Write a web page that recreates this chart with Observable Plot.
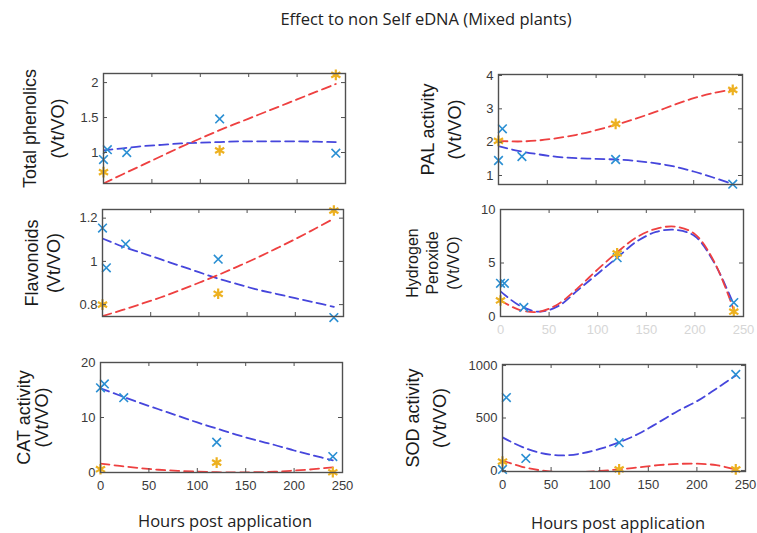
<!DOCTYPE html>
<html>
<head>
<meta charset="utf-8">
<script src="https://cdn.jsdelivr.net/npm/d3@7"></script>
<script src="https://cdn.jsdelivr.net/npm/@observablehq/plot@0.6"></script>
<style>
  body { margin: 0; background: #fff; }
  #root { position: relative; width: 757px; height: 533px; overflow: hidden; background: #fff; }
  .panel { position: absolute; }
  .txt { position: absolute; white-space: nowrap; font-family: "Open Sans", sans-serif; color: #222; transform: translateX(-50%); }
</style>
</head>
<body>
<div id="root"></div>
<script>
// ---------- data ----------
const titleText = "Effect to non Self eDNA (Mixed plants)";
const xLabelText = "Hours post application";
const xTicks = [0, 50, 100, 150, 200, 250];

const hoursCross = [0, 4, 24, 120, 240];   // blue "x" markers
const hoursStar = [0, 120, 240];           // orange "*" markers
const hoursFit = [0, 20, 40, 60, 80, 100, 120, 140, 160, 180, 200, 220, 240]; // dashed fit curves

// Total phenolics
const phenolicsCross = [0.90, 1.04, 1.00, 1.48, 0.99];
const phenolicsStar = [0.72, 1.03, 2.11];
const phenolicsFitBlue = [1.03, 1.06, 1.09, 1.11, 1.13, 1.14, 1.15, 1.16, 1.16, 1.16, 1.16, 1.155, 1.15];
const phenolicsFitRed = [0.557, 0.69, 0.82, 0.95, 1.08, 1.20, 1.32, 1.43, 1.54, 1.65, 1.76, 1.87, 1.98];

// PAL activity
const palCross = [1.45, 2.40, 1.57, 1.48, 0.74];
const palStar = [2.04, 2.55, 3.57];
const palFitBlue = [1.88, 1.74, 1.64, 1.56, 1.52, 1.50, 1.48, 1.44, 1.37, 1.27, 1.12, 0.94, 0.74];
const palFitRed = [2.04, 2.02, 2.05, 2.12, 2.22, 2.36, 2.52, 2.70, 2.90, 3.12, 3.32, 3.47, 3.58];

// Flavonoids
const flavCross = [1.154, 0.97, 1.08, 1.01, 0.74];
const flavStar = [0.80, 0.85, 1.235];
const flavFitBlue = [1.106, 1.07, 1.04, 1.01, 0.98, 0.95, 0.92, 0.895, 0.87, 0.85, 0.83, 0.81, 0.79];
const flavFitRed = [0.747, 0.774, 0.803, 0.833, 0.866, 0.901, 0.937, 0.976, 1.016, 1.059, 1.103, 1.15, 1.198];

// Hydrogen peroxide
const h2o2Cross = [3.1, 3.1, 0.85, 5.5, 1.3];
const h2o2Star = [1.5, 5.9, 0.45];
const h2o2FitBlue = [2.35, 1.0, 0.45, 1.0, 2.5, 4.0, 5.5, 7.0, 7.9, 8.1, 7.5, 5.0, 1.1];
const h2o2FitRed = [1.5, 0.6, 0.45, 1.2, 2.7, 4.4, 6.0, 7.4, 8.2, 8.4, 7.7, 5.1, 0.6];

// CAT activity
const catCross = [15.4, 16.1, 13.6, 5.5, 2.9];
const catStar = [0.6, 1.8, 0.05];
const catFitBlue = [15.3, 14.0, 12.7, 11.5, 10.3, 9.1, 8.0, 6.9, 5.9, 5.0, 4.0, 3.1, 2.2];
const catFitRed = [1.6, 1.2, 0.8, 0.5, 0.3, 0.15, 0.05, 0.0, 0.05, 0.15, 0.35, 0.6, 0.95];

// SOD activity
const sodCross = [10, 695, 115, 265, 915];
const sodStar = [85, 10, 10];
const sodFitBlue = [315, 225, 165, 143, 160, 205, 268, 350, 455, 565, 660, 780, 905];
const sodFitRed = [95, 35, 0, -15, -15, -5, 10, 30, 50, 62, 65, 50, 10];

// ---------- styling ----------
const crossColor = "#2a8fd3";
const starColor = "#EDB120";
const blueFitColor = "#4646dc";
const redFitColor = "#ee4040";

const panels = [
  {label: ["Total phenolics", "(Vt/VO)"], offsets: [-73, -45], fs: 18, col: 0, box: [103, 73, 345, 183],
   domain: [0.557, 2.13], yTicks: [1, 1.5, 2], cross: phenolicsCross, star: phenolicsStar, blue: phenolicsFitBlue, red: phenolicsFitRed, xLab: "none"},
  {label: ["PAL activity", "(Vt/VO)"], offsets: [-70, -43], fs: 18, col: 1, box: [498, 74, 742, 184],
   domain: [0.73, 4.03], yTicks: [1, 2, 3, 4], cross: palCross, star: palStar, blue: palFitBlue, red: palFitRed, xLab: "none"},
  {label: ["Flavonoids", "(Vt/VO)"], offsets: [-70, -48], fs: 18, col: 0, box: [102, 209, 343, 316],
   domain: [0.745, 1.24], yTicks: [0.8, 1, 1.2], cross: flavCross, star: flavStar, blue: flavFitBlue, red: flavFitRed, xLab: "none"},
  {label: ["Hydrogen", "Peroxide", "(Vt/VO)"], offsets: [-88, -68, -47], fs: 16, col: 1, box: [500, 209, 743, 316],
   domain: [0, 10], yTicks: [0, 5, 10], cross: h2o2Cross, star: h2o2Star, blue: h2o2FitBlue, red: h2o2FitRed, xLab: "faint"},
  {label: ["CAT activity", "(Vt/VO)"], offsets: [-76, -58], fs: 18, col: 0, box: [100, 362, 342, 472],
   domain: [0, 20], yTicks: [0, 10, 20], cross: catCross, star: catStar, blue: catFitBlue, red: catFitRed, xLab: "full"},
  {label: ["SOD activity", "(Vt/VO)"], offsets: [-89, -62], fs: 18, col: 1, box: [502, 364, 745, 471],
   domain: [-10, 1010], yTicks: [0, 500, 1000], cross: sodCross, star: sodStar, blue: sodFitBlue, red: sodFitRed, xLab: "full"}
];

const root = document.getElementById("root");

function addText(text, x, y, size) {
  const d = document.createElement("div");
  d.className = "txt";
  d.textContent = text;
  d.style.left = x + "px";
  d.style.top = y + "px";
  d.style.fontSize = size + "px";
  root.appendChild(d);
}

addText(titleText, 426, 7, 16.5);

for (const p of panels) {
  const svgLeft = p.col === 0 ? 0 : 380;
  const svgW = p.col === 0 ? 375 : 377;
  const mt = 12, mb = p.xLab === "none" ? 14 : 30;
  const [bl, bt, br, bb] = p.box;
  const bh = bb - bt, bw = br - bl;
  const ml = bl - svgLeft, mr = svgLeft + svgW - br;
  const h = bh + mt + mb;

  const crossRows = hoursCross.map((t, i) => ({t, v: p.cross[i]}));
  const starRows = hoursStar.map((t, i) => ({t, v: p.star[i]}));
  const blueRows = hoursFit.map((t, i) => ({t, v: p.blue[i]}));
  const redRows = hoursFit.map((t, i) => ({t, v: p.red[i]}));

  const marks = [
    Plot.line(blueRows, {x: "t", y: "v", stroke: blueFitColor, strokeWidth: 1.8, strokeDasharray: "9,5", curve: "catmull-rom", clip: true}),
    Plot.line(redRows, {x: "t", y: "v", stroke: redFitColor, strokeWidth: 1.8, strokeDasharray: "9,5", curve: "catmull-rom", clip: true}),
    Plot.dot(crossRows, {x: "t", y: "v", symbol: "times", stroke: crossColor, strokeWidth: 1.6, r: 4}),
    Plot.dot(starRows, {x: "t", y: "v", symbol: "asterisk", stroke: starColor, strokeWidth: 2.2, r: 5}),
    Plot.frame({stroke: "#505050", strokeWidth: 1.4}),
    // inward ticks (box on)
    Plot.tickX(xTicks.slice(1, -1), {x: d => d, insetTop: bh - 4, stroke: "#505050", strokeWidth: 1}),
    Plot.tickX(xTicks.slice(1, -1), {x: d => d, insetBottom: bh - 4, stroke: "#505050", strokeWidth: 1}),
    Plot.tickY(p.yTicks, {y: d => d, insetRight: bw - 4, stroke: "#505050", strokeWidth: 1}),
    Plot.tickY(p.yTicks, {y: d => d, insetLeft: bw - 4, stroke: "#505050", strokeWidth: 1}),
    Plot.axisY(p.yTicks, {anchor: "left", tickSize: 0, tickPadding: 5, label: null, fill: "#3a3a3a", fontSize: 13, tickFormat: d => String(d)}),
  ];
  if (p.xLab !== "none") {
    marks.push(Plot.axisX(xTicks, {anchor: "bottom", tickSize: 0, tickPadding: 8, label: null,
      fill: p.xLab === "faint" ? "#d6d6d6" : "#3a3a3a", fontSize: 13, tickFormat: d => String(d)}));
  }
  p.label.forEach((line, i) => {
    marks.push(Plot.text([line], {text: d => d, frameAnchor: "left", textAnchor: "middle", dx: p.offsets[i], rotate: -90,
      fontSize: p.fs, fill: "#1a1a1a", fontFamily: "Liberation Sans, Arial, sans-serif"}));
  });

  const chart = Plot.plot({
    width: svgW, height: h,
    marginLeft: ml, marginRight: mr, marginTop: mt, marginBottom: mb,
    x: {domain: [0, 250], axis: null},
    y: {domain: p.domain, axis: null},
    style: {fontFamily: "Liberation Sans, Arial, sans-serif", fontSize: "13px", background: "transparent", overflow: "visible"},
    marks
  });
  chart.classList.add("panel");
  chart.style.left = svgLeft + "px";
  chart.style.top = (bt - mt) + "px";
  root.appendChild(chart);
}

addText(xLabelText, 225, 509, 16.5);
addText(xLabelText, 618, 511, 16.5);
</script>
</body>
</html>
